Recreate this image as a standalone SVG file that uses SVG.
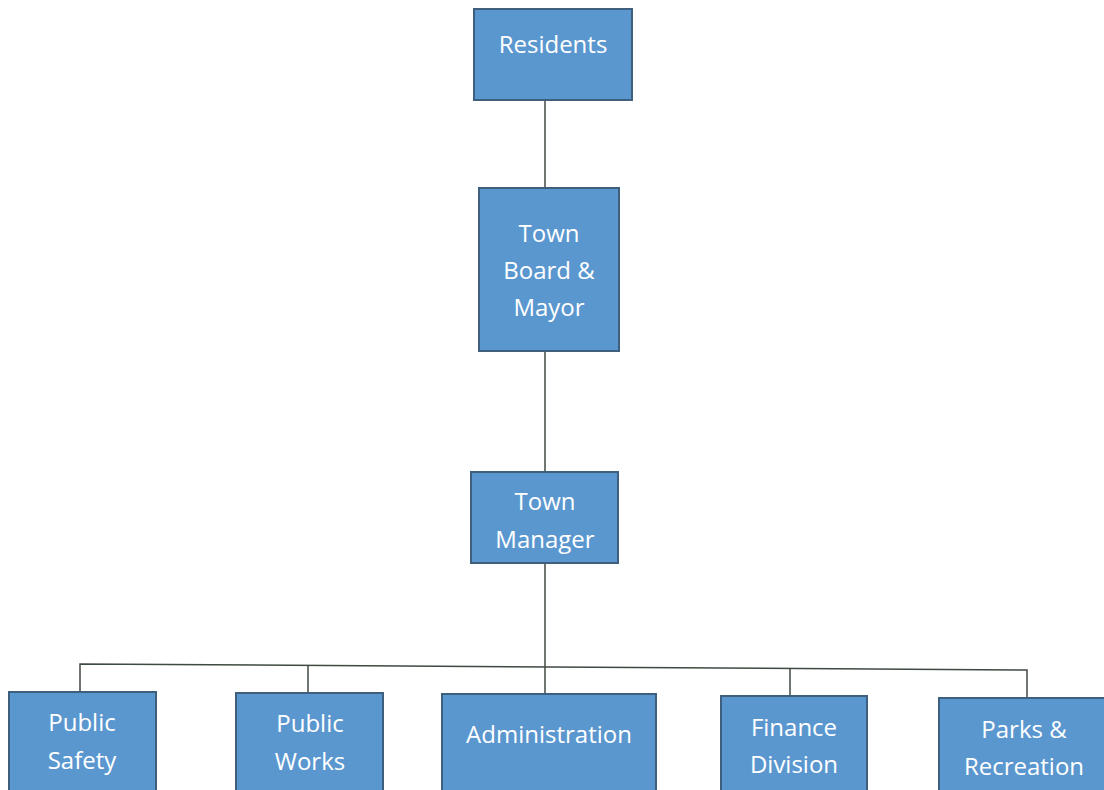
<svg xmlns="http://www.w3.org/2000/svg" width="1104" height="790" viewBox="0 0 1104 790">
<style>
.box{fill:#5b97cf;stroke:#3e5f7e;stroke-width:2}
.t{fill:#ffffff;font-family:"Open Sans","Liberation Sans",sans-serif;font-size:24px;text-anchor:middle}
.c{stroke:#3f4a40;stroke-width:1.5;fill:none}
</style>
<rect width="1104" height="790" fill="#ffffff"/>
<g id="connectors">
<line class="c" x1="545" y1="100" x2="545" y2="188"/>
<line class="c" x1="545" y1="351" x2="545" y2="472"/>
<line class="c" x1="545" y1="563" x2="545" y2="694"/>
<polyline class="c" points="80,692 80,664 1027,670 1027,698"/>
<line class="c" x1="308" y1="665" x2="308" y2="693"/>
<line class="c" x1="790" y1="668" x2="790" y2="696"/>
</g>
<g id="residents"><rect class="box" x="474" y="9" width="158" height="91"/><text class="t" x="553" y="53">Residents</text></g>
<g id="town-board"><rect class="box" x="479" y="188" width="140" height="163"/><text class="t" x="549" y="242">Town</text><text class="t" x="549" y="279">Board &amp;</text><text class="t" x="549" y="316">Mayor</text></g>
<g id="town-manager"><rect class="box" x="471" y="472" width="147" height="91"/><text class="t" x="545" y="510">Town</text><text class="t" x="545" y="548">Manager</text></g>
<g id="public-safety"><rect class="box" x="9" y="692" width="147" height="100"/><text class="t" x="82" y="731">Public</text><text class="t" x="82" y="769">Safety</text></g>
<g id="public-works"><rect class="box" x="236" y="693" width="147" height="99"/><text class="t" x="310" y="732">Public</text><text class="t" x="310" y="770">Works</text></g>
<g id="administration"><rect class="box" x="442" y="694" width="214" height="98"/><text class="t" x="549" y="743">Administration</text></g>
<g id="finance"><rect class="box" x="721" y="696" width="146" height="96"/><text class="t" x="794" y="736">Finance</text><text class="t" x="794" y="773">Division</text></g>
<g id="parks"><rect class="box" x="939" y="698" width="167" height="94"/><text class="t" x="1024" y="738">Parks &amp;</text><text class="t" x="1024" y="775">Recreation</text></g>
</svg>
